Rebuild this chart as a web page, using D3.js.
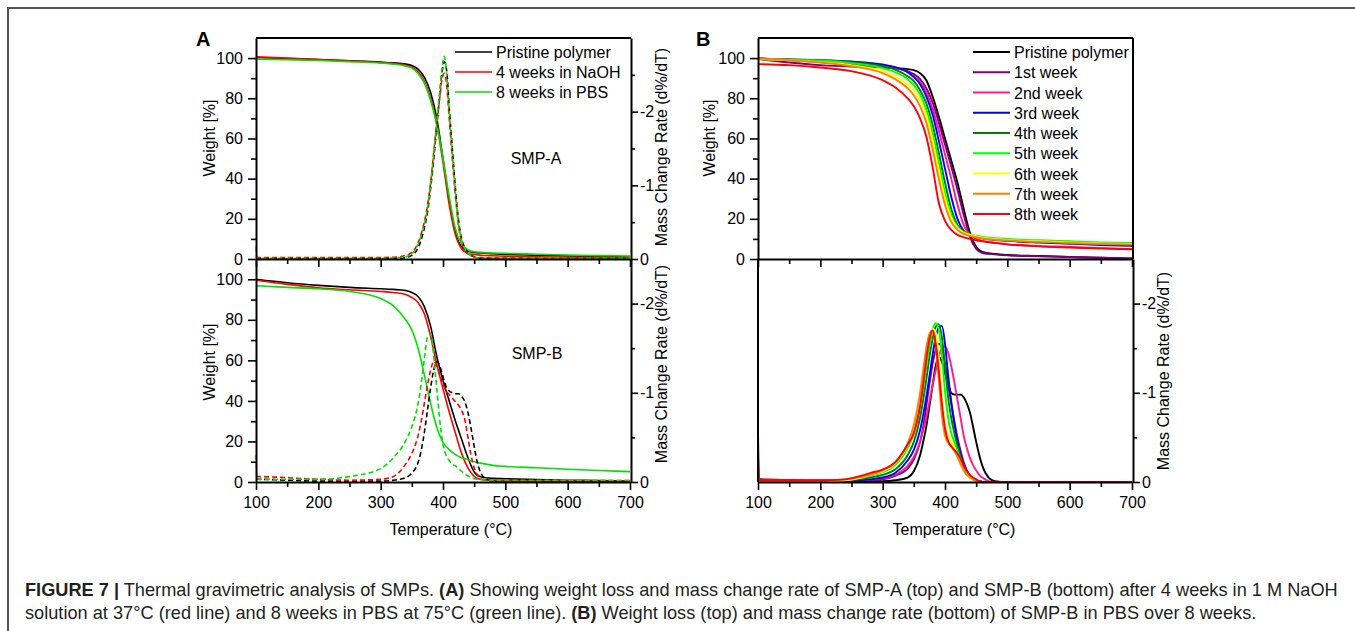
<!DOCTYPE html>
<html>
<head>
<meta charset="utf-8">
<script src="https://cdn.jsdelivr.net/npm/d3@7/dist/d3.min.js"></script>
<style>
  html, body { margin: 0; padding: 0; background: #fff; }
  svg text { font-family: "Liberation Sans", Arial, sans-serif; }
</style>
</head>
<body>
<div class="fig7"></div>
<script>
// ---------- data ----------
const xMajor = [100, 200, 300, 400, 500, 600, 700];
const xMinor = [150, 250, 350, 450, 550, 650];
const weightTicks = [0, 20, 40, 60, 80, 100];
const weightMinor = [10, 30, 50, 70, 90];
const rateTicks = [0, -1, -2];
const rateMinorTop = [-0.5, -1.5, -2.5];
const rateMinorBot = [-0.5, -1.5];

const namesA = ['Pristine polymer', '4 weeks in NaOH', '8 weeks in PBS'];
const colorsA = ['#000000', '#ff0000', '#00e000'];
const namesB = ['Pristine polymer', '1st week', '2nd week', '3rd week', '4th week', '5th week', '6th week', '7th week', '8th week'];
const colorsB = ['#000000', '#800080', '#ff1a8c', '#0000ff', '#008000', '#00ff00', '#ffff00', '#ff8000', '#ff0000'];

// weight curves, shared temperature grid
const tWeight = [100, 150, 200, 250, 300, 320, 340, 350, 360, 370, 380, 390, 400, 410, 420, 430, 440, 450, 460, 480, 500, 550, 600, 650, 700];

// SMP-A weight
const wA_pristine = [100.3, 99.8, 99.3, 98.7, 98, 97.6, 97, 96.3, 94.5, 90.5, 83, 70, 50, 29, 13, 6, 4, 3.3, 3, 2.6, 2.3, 1.9, 1.5, 1.2, 1.0];
const wA_naoh = [100.6, 100, 99.3, 98.6, 97.8, 97.3, 96.5, 95.5, 93.2, 88.5, 80, 67, 48, 27, 12, 5, 2.8, 2.2, 1.9, 1.6, 1.4, 1.1, 0.9, 0.7, 0.5];
const wA_pbs = [99.5, 99.2, 98.8, 98.2, 97.5, 97, 96, 95, 92.3, 87.5, 79, 67, 50, 31, 15, 7.5, 4.5, 3.6, 3.3, 3.0, 2.8, 2.4, 2.0, 1.7, 1.5];

// SMP-A mass change rate
const tRateA = [100, 102, 200, 300, 330, 340, 350, 360, 365, 370, 375, 380, 385, 390, 395, 398, 402, 406, 410, 415, 420, 425, 430, 435, 440, 450, 460, 500, 600, 700];
const rA_pristine = [-0.01, -0.01, -0.01, -0.01, -0.01, -0.02, -0.05, -0.15, -0.26, -0.42, -0.63, -0.95, -1.35, -1.8, -2.25, -2.5, -2.68, -2.55, -2.05, -1.5, -0.95, -0.52, -0.27, -0.15, -0.08, -0.03, -0.01, -0.01, 0, 0];
const rA_naoh = [-0.02, -0.02, -0.02, -0.02, -0.03, -0.05, -0.09, -0.22, -0.34, -0.5, -0.72, -1.03, -1.43, -1.85, -2.2, -2.42, -2.52, -2.35, -1.9, -1.35, -0.85, -0.45, -0.23, -0.12, -0.07, -0.03, -0.02, -0.01, -0.01, 0];
const rA_pbs = [-0.17, -0.01, -0.01, -0.01, -0.02, -0.03, -0.07, -0.2, -0.32, -0.47, -0.68, -1.0, -1.42, -1.85, -2.3, -2.55, -2.75, -2.5, -2.0, -1.45, -0.9, -0.48, -0.25, -0.14, -0.08, -0.02, -0.01, -0.01, -0.01, -0.01];

// SMP-B weight (panel A bottom)
const wB_pristine = [100, 98.3, 97, 96, 95.3, 95, 94.5, 93.5, 91.5, 86.5, 77, 62, 50, 40, 30, 21, 12, 5, 2.6, 1.8, 1.6, 1.2, 0.9, 0.7, 0.5];
const wB_naoh = [99.5, 97.5, 95.8, 94.8, 94, 93.5, 92.5, 91, 88.5, 83, 72, 58, 46, 34.5, 24, 14, 7, 2.8, 1.3, 0.9, 0.7, 0.6, 0.5, 0.4, 0.4];
const wB_pbs = [96.8, 96, 95.3, 94, 90.5, 87, 80, 75, 66, 53, 39, 27, 19.5, 16, 13.5, 12, 11, 10, 9.3, 8.2, 7.7, 7, 6.3, 5.7, 5.1];

// SMP-B mass change rate (panel A bottom)
const tRateB = [100, 102, 200, 250, 300, 320, 340, 350, 360, 365, 370, 375, 380, 385, 390, 395, 400, 405, 410, 415, 420, 425, 430, 435, 440, 445, 450, 455, 460, 470, 480, 500, 600, 700];
const rB_pristine = [-0.03, -0.03, -0.01, -0.01, -0.01, -0.02, -0.05, -0.1, -0.22, -0.35, -0.55, -0.8, -1.05, -1.25, -1.35, -1.3, -1.18, -1.07, -1.02, -1.0, -0.99, -0.99, -0.96, -0.9, -0.78, -0.6, -0.4, -0.22, -0.11, -0.03, -0.01, 0, 0, 0];
const rB_naoh = [-0.06, -0.06, -0.03, -0.02, -0.03, -0.06, -0.2, -0.32, -0.52, -0.68, -0.88, -1.08, -1.25, -1.35, -1.3, -1.2, -1.1, -1.02, -0.98, -0.94, -0.9, -0.86, -0.8, -0.7, -0.5, -0.3, -0.16, -0.08, -0.04, -0.02, -0.01, -0.01, -0.01, -0.01];
const rB_pbs = [-0.3, -0.03, -0.03, -0.06, -0.15, -0.27, -0.46, -0.62, -0.88, -1.1, -1.38, -1.62, -1.66, -1.42, -1.05, -0.68, -0.42, -0.3, -0.24, -0.2, -0.18, -0.15, -0.12, -0.09, -0.07, -0.05, -0.04, -0.03, -0.03, -0.02, -0.02, -0.02, -0.02, -0.02];

// panel B top: weight of SMP-B in PBS, week by week
const wPBS_pristine = [100, 99, 98, 96.8, 95.5, 95, 94.5, 94, 92.5, 89, 81, 71, 60, 49, 38, 25, 13, 6, 3.5, 2.5, 2, 1.5, 1, 0.6, 0.3];
const wPBS_w1 = [99.5, 97.8, 96.5, 95.8, 95.5, 95, 93.5, 92, 89.5, 85, 78, 68, 57, 46, 34.5, 22, 11, 5, 3, 2.3, 1.8, 1.4, 1, 0.6, 0.3];
const wPBS_w2 = [99.5, 99, 98.5, 97.8, 96.5, 95.3, 93, 91, 88, 83, 75, 64, 52, 40, 27, 17, 12, 10, 9, 8, 7.3, 6.5, 6, 5.4, 5];
const wPBS_w3 = [99.5, 99.3, 99, 98.3, 96.8, 95.5, 93, 90.5, 87, 81, 72, 59, 45, 31, 20, 14, 12, 11, 10.3, 9.5, 9, 8.2, 7.6, 7, 6.5];
const wPBS_w4 = [99.5, 99.3, 99, 98, 96, 94.3, 91, 88.5, 84, 77.5, 67, 53, 38, 25, 17, 13.5, 12, 11.2, 10.6, 10, 9.5, 8.8, 8.2, 7.7, 7.3];
const wPBS_w5 = [99.5, 99.2, 98.8, 97.5, 95, 93, 89.5, 86.5, 82, 74.5, 63, 48, 33, 22, 16, 13.5, 12.3, 11.6, 11, 10.4, 10, 9.3, 8.8, 8.3, 8];
const wPBS_w6 = [99.5, 99, 98, 96.5, 93.5, 91, 87, 84, 79, 71.5, 59, 44, 30, 20.5, 15.5, 13, 12, 11.2, 10.6, 10, 9.5, 8.8, 8.3, 7.8, 7.5];
const wPBS_w7 = [99.8, 99, 97.8, 96, 92.5, 89.5, 85, 81.5, 76, 68, 55, 40, 27, 18.5, 14.5, 12.5, 11.5, 10.8, 10.2, 9.6, 9.2, 8.5, 8, 7.5, 7.2];
const wPBS_w8 = [97, 96.5, 95.3, 93.5, 89, 85.5, 80, 76, 70, 61, 46, 28, 19, 14.5, 12, 10.8, 10, 9.3, 8.8, 8, 7.3, 6.3, 5.7, 5.2, 4.8];

// panel B bottom: mass change rate of SMP-B in PBS
const tRatePBS = [100, 102, 200, 240, 260, 280, 300, 320, 340, 350, 360, 365, 370, 375, 380, 385, 390, 395, 400, 405, 410, 415, 420, 425, 430, 435, 440, 445, 450, 455, 460, 470, 480, 500, 600, 700];
const rPBS_pristine = [-0.03, -0.03, -0.01, -0.01, -0.01, -0.01, -0.01, -0.02, -0.05, -0.12, -0.3, -0.45, -0.62, -0.85, -1.08, -1.3, -1.4, -1.35, -1.22, -1.1, -1.0, -0.98, -0.98, -0.98, -0.95, -0.88, -0.78, -0.62, -0.45, -0.3, -0.18, -0.05, -0.01, 0, 0, 0];
const rPBS_w1 = [-0.56, -0.02, -0.01, -0.01, -0.02, -0.02, -0.03, -0.07, -0.15, -0.25, -0.45, -0.62, -0.85, -1.1, -1.32, -1.48, -1.55, -1.5, -1.32, -1.1, -0.88, -0.68, -0.5, -0.35, -0.22, -0.13, -0.07, -0.04, -0.02, -0.01, 0, 0, 0, 0, 0, 0];
const rPBS_w2 = [-0.02, -0.02, -0.02, -0.02, -0.02, -0.03, -0.04, -0.08, -0.18, -0.28, -0.45, -0.58, -0.72, -0.9, -1.08, -1.25, -1.4, -1.5, -1.52, -1.45, -1.3, -1.12, -0.92, -0.72, -0.52, -0.38, -0.27, -0.19, -0.13, -0.08, -0.05, -0.01, 0, 0, 0, 0];
const rPBS_w3 = [-0.01, -0.01, -0.01, -0.02, -0.02, -0.03, -0.05, -0.1, -0.24, -0.36, -0.58, -0.75, -0.95, -1.18, -1.42, -1.62, -1.73, -1.75, -1.55, -1.2, -0.9, -0.65, -0.45, -0.3, -0.2, -0.12, -0.07, -0.04, -0.02, -0.01, 0, 0, 0, 0, 0, 0];
const rPBS_w4 = [-0.01, -0.01, -0.01, -0.02, -0.03, -0.05, -0.08, -0.14, -0.3, -0.45, -0.72, -0.92, -1.15, -1.4, -1.6, -1.74, -1.77, -1.62, -1.3, -0.95, -0.72, -0.55, -0.4, -0.28, -0.18, -0.11, -0.06, -0.03, -0.02, -0.01, 0, 0, 0, 0, 0, 0];
const rPBS_w5 = [-0.01, -0.01, -0.01, -0.02, -0.04, -0.07, -0.11, -0.19, -0.38, -0.55, -0.85, -1.05, -1.3, -1.52, -1.7, -1.78, -1.72, -1.42, -1.02, -0.72, -0.55, -0.45, -0.35, -0.25, -0.16, -0.1, -0.05, -0.03, -0.01, 0, 0, 0, 0, 0, 0, 0];
const rPBS_w6 = [-0.01, -0.01, -0.01, -0.02, -0.04, -0.08, -0.12, -0.21, -0.42, -0.62, -0.95, -1.18, -1.42, -1.62, -1.72, -1.68, -1.4, -0.98, -0.65, -0.52, -0.45, -0.38, -0.3, -0.22, -0.14, -0.08, -0.05, -0.03, -0.01, 0, 0, 0, 0, 0, 0, 0];
const rPBS_w7 = [-0.01, -0.01, -0.01, -0.03, -0.05, -0.08, -0.13, -0.22, -0.43, -0.64, -1.0, -1.25, -1.5, -1.66, -1.7, -1.55, -1.15, -0.75, -0.52, -0.44, -0.4, -0.35, -0.28, -0.2, -0.13, -0.08, -0.05, -0.03, -0.01, 0, 0, 0, 0, 0, 0, 0];
const rPBS_w8 = [-0.3, -0.02, -0.02, -0.03, -0.06, -0.1, -0.14, -0.22, -0.42, -0.55, -0.85, -1.1, -1.38, -1.6, -1.7, -1.55, -1.25, -0.88, -0.6, -0.46, -0.4, -0.36, -0.32, -0.26, -0.18, -0.12, -0.08, -0.05, -0.03, -0.01, 0, 0, 0, 0, 0, 0];

// ---------- drawing ----------
const W = 1355, H = 631;
const FONT = 16;

const svg = d3.select('.fig7').append('svg')
    .attr('width', W)
    .attr('height', H)
    .style('display', 'block')
    .style('background', '#fff');

// figure frame
svg.append('path')
    .attr('d', 'M8,' + H + 'V8H' + W)
    .attr('fill', 'none')
    .attr('stroke', '#555')
    .attr('stroke-width', 2);

const xA = d3.scaleLinear().domain([100, 700]).range([256, 630]);
const xB = d3.scaleLinear().domain([100, 700]).range([758, 1132]);
const yTop = d3.scaleLinear().domain([0, 110]).range([259, 38]);
const yBot = d3.scaleLinear().domain([0, 110]).range([482, 259]);
const rTop = d3.scaleLinear().domain([0, -3]).range([259, 38]);
const rBot = d3.scaleLinear().domain([0, -2.5]).range([482, 259]);

const rateFmt = d => d === 0 ? '0' : '-' + Math.abs(d);

function drawLine(x, y, T, vals, color, opts) {
    opts = opts || {};
    const gen = d3.line()
        .x((d, i) => x(T[i]))
        .y(d => y(d))
        .curve(d3.curveMonotoneX);
    svg.append('path')
        .attr('d', gen(vals))
        .attr('fill', 'none')
        .attr('stroke', color)
        .attr('stroke-width', opts.width || 1.6)
        .attr('stroke-dasharray', opts.dash || null)
        .attr('stroke-linejoin', 'round');
}

function styleAxis(g) {
    g.select('.domain').attr('stroke', '#000').attr('stroke-width', 2);
    g.selectAll('.tick line').attr('stroke', '#000').attr('stroke-width', 1.6);
    g.selectAll('.tick text')
        .attr('font-size', FONT)
        .attr('font-family', '"Liberation Sans", Arial, sans-serif')
        .attr('fill', '#000');
    return g;
}

function xAxis(x, yPos, withLabels) {
    const g = svg.append('g').attr('transform', 'translate(0,' + yPos + ')');
    g.call(d3.axisBottom(x).tickValues(xMajor).tickSize(8).tickSizeOuter(0).tickPadding(7)
        .tickFormat(withLabels ? d3.format('d') : ''));
    styleAxis(g);
    const m = svg.append('g').attr('transform', 'translate(0,' + yPos + ')');
    m.call(d3.axisBottom(x).tickValues(xMinor).tickSize(5).tickSizeOuter(0).tickFormat(''));
    styleAxis(m).select('.domain').remove();
}

function leftAxis(y, xPos) {
    const g = svg.append('g').attr('transform', 'translate(' + xPos + ',0)');
    g.call(d3.axisLeft(y).tickValues(weightTicks).tickSize(8).tickSizeOuter(0).tickPadding(5)
        .tickFormat(d3.format('d')));
    styleAxis(g);
    const m = svg.append('g').attr('transform', 'translate(' + xPos + ',0)');
    m.call(d3.axisLeft(y).tickValues(weightMinor).tickSize(5).tickSizeOuter(0).tickFormat(''));
    styleAxis(m).select('.domain').remove();
}

function rightAxis(r, xPos, minor) {
    const g = svg.append('g').attr('transform', 'translate(' + xPos + ',0)');
    g.call(d3.axisRight(r).tickValues(rateTicks).tickSize(7).tickSizeOuter(0).tickPadding(2)
        .tickFormat(rateFmt));
    styleAxis(g);
    const m = svg.append('g').attr('transform', 'translate(' + xPos + ',0)');
    m.call(d3.axisRight(r).tickValues(minor).tickSize(4).tickSizeOuter(0).tickFormat(''));
    styleAxis(m).select('.domain').remove();
}

function plainLine(x1, y1, x2, y2) {
    svg.append('line')
        .attr('x1', x1).attr('y1', y1).attr('x2', x2).attr('y2', y2)
        .attr('stroke', '#000').attr('stroke-width', 2);
}

function addText(x, y, str, opts) {
    opts = opts || {};
    const t = svg.append('text')
        .attr('x', x).attr('y', y)
        .attr('font-size', opts.size || FONT)
        .attr('font-weight', opts.bold ? 'bold' : null)
        .attr('text-anchor', opts.anchor || 'start')
        .attr('fill', '#000')
        .text(str);
    if (opts.rotate) {
        t.attr('x', null).attr('y', null)
            .attr('transform', 'translate(' + x + ',' + y + ') rotate(-90)');
    }
    return t;
}

function legend(x0, y0, step, names, colors, lw) {
    names.forEach((n, i) => {
        const y = y0 + i * step;
        svg.append('line')
            .attr('x1', x0).attr('x2', x0 + 37).attr('y1', y).attr('y2', y)
            .attr('stroke', colors[i]).attr('stroke-width', lw);
        addText(x0 + 41, y + 6, n);
    });
}

// ===== Panel A =====
const dash = '5,3';
// top: SMP-A
[wA_pristine, wA_naoh, wA_pbs].forEach((v, i) => drawLine(xA, yTop, tWeight, v, colorsA[i]));
[rA_pristine, rA_naoh, rA_pbs].forEach((v, i) => drawLine(xA, rTop, tRateA, v, colorsA[i], { dash: dash }));
// bottom: SMP-B
[wB_pristine, wB_naoh, wB_pbs].forEach((v, i) => drawLine(xA, yBot, tWeight, v, colorsA[i]));
[rB_pristine, rB_naoh, rB_pbs].forEach((v, i) => drawLine(xA, rBot, tRateB, v, colorsA[i], { dash: dash }));

plainLine(256, 38, 631, 38);
xAxis(xA, 259, false);
xAxis(xA, 482, true);
leftAxis(yTop, 256);
leftAxis(yBot, 256);
rightAxis(rTop, 631, rateMinorTop);
rightAxis(rBot, 631, rateMinorBot);

legend(455, 52, 20, namesA, colorsA, 1.6);
addText(536, 164, 'SMP-A', { anchor: 'middle' });
addText(537, 359, 'SMP-B', { anchor: 'middle' });
addText(196, 46, 'A', { bold: true, size: 20 });

addText(215, 138, 'Weight [%]', { anchor: 'middle', rotate: true });
addText(215, 362, 'Weight [%]', { anchor: 'middle', rotate: true });
addText(667, 147, 'Mass Change Rate (d%/dT)', { anchor: 'middle', rotate: true });
addText(667, 364, 'Mass Change Rate (d%/dT)', { anchor: 'middle', rotate: true });
addText(451, 535, 'Temperature (°C)', { anchor: 'middle' });

// ===== Panel B =====
const weeklyW = [wPBS_pristine, wPBS_w1, wPBS_w2, wPBS_w3, wPBS_w4, wPBS_w5, wPBS_w6, wPBS_w7, wPBS_w8];
const weeklyR = [rPBS_pristine, rPBS_w1, rPBS_w2, rPBS_w3, rPBS_w4, rPBS_w5, rPBS_w6, rPBS_w7, rPBS_w8];
weeklyW.forEach((v, i) => drawLine(xB, yTop, tWeight, v, colorsB[i], { width: 1.9 }));
weeklyR.forEach((v, i) => drawLine(xB, rBot, tRatePBS, v, colorsB[i], { width: 1.9 }));

plainLine(758, 38, 1133, 38);
plainLine(1133, 38, 1133, 259);
plainLine(758, 259, 758, 482);
xAxis(xB, 259, false);
xAxis(xB, 482, true);
leftAxis(yTop, 758);
rightAxis(rBot, 1133, rateMinorBot);

legend(973, 52, 20.25, namesB, colorsB, 1.9);
addText(696, 46, 'B', { bold: true, size: 20 });
addText(715, 138, 'Weight [%]', { anchor: 'middle', rotate: true });
addText(1169, 371, 'Mass Change Rate (d%/dT)', { anchor: 'middle', rotate: true });
addText(954, 535, 'Temperature (°C)', { anchor: 'middle' });

// ===== caption =====
const capColor = '#231f20';
const cap1 = svg.append('text').attr('x', 25).attr('y', 596).attr('font-size', 16).attr('fill', capColor);
cap1.append('tspan').attr('font-weight', 'bold').text('FIGURE 7 |');
cap1.append('tspan').text(' Thermal gravimetric analysis of SMPs. ');
cap1.append('tspan').attr('font-weight', 'bold').text('(A)');
cap1.append('tspan').text(' Showing weight loss and mass change rate of SMP-A (top) and SMP-B (bottom) after 4 weeks in 1 M NaOH');

const cap2 = svg.append('text').attr('x', 25).attr('y', 619).attr('font-size', 16).attr('fill', capColor);
cap2.append('tspan').text('solution at 37°C (red line) and 8 weeks in PBS at 75°C (green line). ');
cap2.append('tspan').attr('font-weight', 'bold').text('(B)');
cap2.append('tspan').text(' Weight loss (top) and mass change rate (bottom) of SMP-B in PBS over 8 weeks.');

// fit the first caption line to the width it takes in the figure
const capLen = cap1.node().getComputedTextLength();
const capSize = 16 * 1314 / capLen;
cap1.attr('font-size', capSize);
cap2.attr('font-size', capSize);
</script>
</body>
</html>
